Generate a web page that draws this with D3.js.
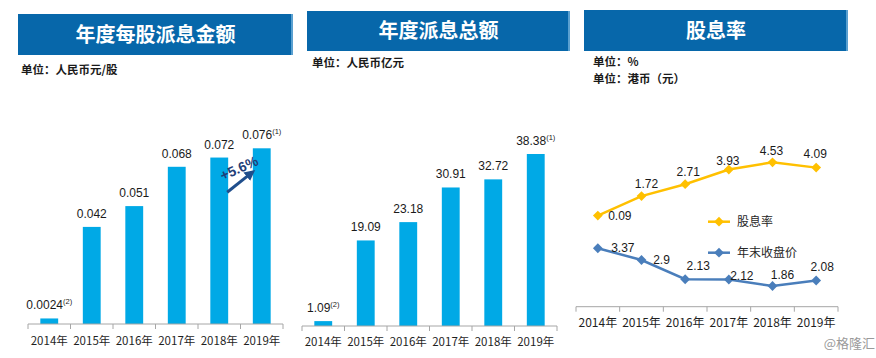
<!DOCTYPE html>
<html><head><meta charset="utf-8">
<script src="https://cdn.jsdelivr.net/npm/d3@7/dist/d3.min.js"></script>
<style>
body{margin:0;background:#fff;}
svg{display:block;}
text{font-family:"Liberation Sans","Noto Sans CJK SC",sans-serif;}
.cjk{font-family:"Noto Sans CJK SC",sans-serif;}
</style></head>
<body>
<svg id="c" width="876" height="358"></svg>
<script>
const years = ["2014年","2015年","2016年","2017年","2018年","2019年"];
const dpsValues = [0.0024,0.042,0.051,0.068,0.072,0.076];
const dpsLabels = ["0.0024","0.042","0.051","0.068","0.072","0.076"];
const totalValues = [1.09,19.09,23.18,30.91,32.72,38.38];
const totalLabels = ["1.09","19.09","23.18","30.91","32.72","38.38"];
const notes = ["(2)","","","","","(1)"];
const yieldValues = [0.09,1.72,2.71,3.93,4.53,4.09];
const yieldLabels = ["0.09","1.72","2.71","3.93","4.53","4.09"];
const priceValues = [3.37,2.9,2.13,2.12,1.86,2.08];
const priceLabels = ["3.37","2.9","2.13","2.12","1.86","2.08"];
const seriesNames = ["股息率","年末收盘价"];
const titles = ["年度每股派息金额","年度派息总额","股息率"];
const growthLabel = "+5.6%";

// layout / style (not data)
const BANNER = "#0767AA", BAR = "#00A9E6", YEL = "#FFC000", BLU = "#4A7EBB";
const yieldLabelOffsets = [[22,4],[5,-8],[3,-8],[-1,-5],[-1,-7],[-1,-10]];
const priceLabelOffsets = [[25,4],[20,4],[13,-9],[13,0],[10,-7],[6,-10]];

const svg = d3.select("#c");

function banner(x0,x1,y0,y1,title,ty){
  svg.append("rect").attr("x",x0).attr("y",y0).attr("width",x1-x0).attr("height",y1-y0).attr("fill",BANNER);
  svg.append("rect").attr("x",x1-2).attr("y",y0).attr("width",2).attr("height",y1-y0).attr("fill","#5aa0d0");
  svg.append("text").attr("class","cjk").attr("x",(x0+x1)/2).attr("y",ty)
    .attr("text-anchor","middle").attr("fill","#fff").attr("font-size",20).attr("font-weight","bold").text(title);
}
function unit(x,y,t){
  svg.append("text").attr("class","cjk").attr("x",x).attr("y",y).attr("fill","#1a1a1a")
    .attr("font-size",11.5).attr("font-weight","bold").text(t);
}

banner(18,293,14,55,titles[0],42);
banner(307,570,11,51,titles[1],38);
banner(584,848,10,51,titles[2],38);
unit(21,74,"单位：人民币元/股");
unit(312,67,"单位：人民币亿元");
unit(593,66,"单位：%");
unit(593,83,"单位：港币（元）");

function axisX(g, x, y0, labelY, size){
  const r = x.range();
  g.append("line").attr("x1",r[0]).attr("x2",r[1]).attr("y1",y0).attr("y2",y0).attr("stroke","#a6a6a6").attr("stroke-width",1);
  const b = [r[0]].concat(x.domain().map((d,i)=>r[0]+x.step()*(i+1)));
  b.forEach(v=>g.append("line").attr("x1",v).attr("x2",v).attr("y1",y0).attr("y2",y0+5).attr("stroke","#a6a6a6"));
  x.domain().forEach(d=>{
    g.append("text").attr("class","cjk").attr("x",x(d)+x.bandwidth()/2).attr("y",labelY)
      .attr("text-anchor","middle").attr("font-size",size).attr("fill","#1f1f1f").text(d);
  });
}

function barPanel(values, labels, x0, x1, base, topY, labelY){
  const g = svg.append("g");
  const x = d3.scaleBand().domain(years).range([x0,x1]).paddingInner(0.58).paddingOuter(0.29);
  const y = d3.scaleLinear().domain([0,d3.max(values)]).range([base,topY]);
  g.selectAll("rect.bar").data(values).join("rect").attr("class","bar")
    .attr("x",(d,i)=>x(years[i])).attr("width",x.bandwidth())
    .attr("y",d=>y(d)).attr("height",d=>base-y(d)).attr("fill",BAR);
  values.forEach((v,i)=>{
    const t = g.append("text").attr("x",x(years[i])+x.bandwidth()/2).attr("y",y(v)-9)
      .attr("text-anchor","middle").attr("font-size",12).attr("fill","#1a1a1a");
    t.append("tspan").text(labels[i]);
    if(notes[i]) t.append("tspan").attr("font-size",7.5).attr("dy",-5).text(notes[i]);
  });
  const xa = d3.scaleBand().domain(years).range([x0,x1]);
  axisX(g, xa, base, labelY, 11.5);
  return {x,y};
}

const p1 = barPanel(dpsValues, dpsLabels, 28, 283, 324, 148.3, 345);
barPanel(totalValues, totalLabels, 302, 557, 326, 154, 346);

// growth arrow
svg.append("defs").append("marker").attr("id","ah").attr("viewBox","0 0 10 10").attr("refX",6).attr("refY",5)
  .attr("markerWidth",3.6).attr("markerHeight",3.6).attr("orient","auto").attr("markerUnits","strokeWidth")
  .append("path").attr("d","M0,0L10,5L0,10z").attr("fill","#1F4E8C");
const ax0 = p1.x(years[4])+p1.x.bandwidth(), ax1 = p1.x(years[5]);
svg.append("line").attr("x1",ax0-1).attr("y1",p1.y(0.057)).attr("x2",ax1-1).attr("y2",p1.y(0.0655))
  .attr("stroke","#1F4E8C").attr("stroke-width",3).attr("marker-end","url(#ah)");
const tx = (ax0+ax1)/2+0.5, ty = p1.y(0.0655);
svg.append("text").attr("x",tx).attr("y",ty)
  .attr("text-anchor","middle").attr("font-size",14).attr("font-weight","bold").attr("fill","#1F3E77")
  .attr("transform",`rotate(-24,${tx},${ty})`).text(growthLabel);

// line panel
const g3 = svg.append("g");
const x3 = d3.scaleBand().domain(years).range([576,838]);
const yY = d3.scaleLinear().domain([-7.5,5]).range([306.7,156.7]);
const yP = d3.scaleLinear().domain([1,7]).range([307.5,157.5]);
axisX(g3, x3, 306.7, 327, 12);
const cx = d=>x3(d)+x3.bandwidth()/2;

function lineSeries(vals, yS, color, labels, offs){
  const line = d3.line().x((d,i)=>cx(years[i])).y(d=>yS(d));
  g3.append("path").datum(vals).attr("d",line).attr("fill","none").attr("stroke",color).attr("stroke-width",2.5);
  vals.forEach((v,i)=>{
    g3.append("path").attr("d",d3.symbol().type(d3.symbolSquare).size(48)())
      .attr("transform",`translate(${cx(years[i])},${yS(v)}) rotate(45)`).attr("fill",color);
    g3.append("text").attr("x",cx(years[i])+offs[i][0]).attr("y",yS(v)+offs[i][1])
      .attr("text-anchor","middle").attr("font-size",12).attr("fill","#1a1a1a").text(labels[i]);
  });
}
lineSeries(yieldValues, yY, YEL, yieldLabels, yieldLabelOffsets);
lineSeries(priceValues, yP, BLU, priceLabels, priceLabelOffsets);

// legend
[[YEL,221.7,seriesNames[0]],[BLU,252.7,seriesNames[1]]].forEach(([c,ly,t])=>{
  g3.append("line").attr("x1",708).attr("x2",730).attr("y1",ly).attr("y2",ly).attr("stroke",c).attr("stroke-width",2.5);
  g3.append("path").attr("d",d3.symbol().type(d3.symbolSquare).size(48)())
    .attr("transform",`translate(719,${ly}) rotate(45)`).attr("fill",c);
  g3.append("text").attr("class","cjk").attr("x",737).attr("y",ly+4.5).attr("font-size",12).attr("fill","#262626").text(t);
});

svg.append("text").attr("class","cjk").attr("x",875).attr("y",348).attr("text-anchor","end")
  .attr("font-size",13).attr("fill","#9a9a9a").text("@格隆汇");
</script>
</body></html>
